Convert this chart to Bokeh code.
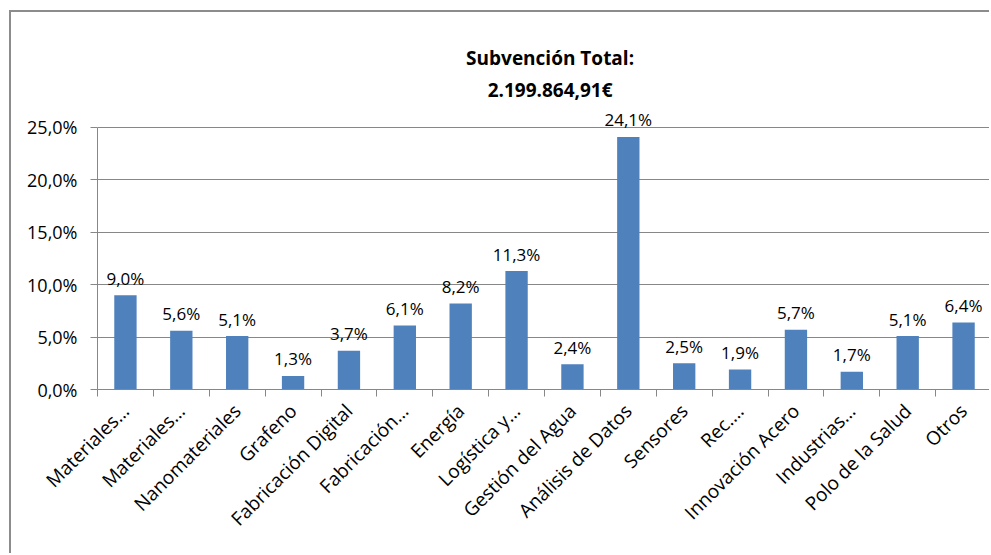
from math import pi
from bokeh.plotting import figure
from bokeh.models import Range1d, FixedTicker, Label, ColumnDataSource
from bokeh.core.properties import value
from bokeh.embed import file_html
from bokeh.resources import INLINE

categories = ["Materiales…", "Materiales…", "Nanomateriales", "Grafeno",
              "Fabricación Digital", "Fabricación…", "Energía", "Logística y…",
              "Gestión del Agua", "Análisis de Datos", "Sensores", "Rec.…",
              "Innovación Acero", "Industrias…", "Polo de la Salud", "Otros"]
percent = [9.0, 5.6, 5.1, 1.3, 3.7, 6.1, 8.2, 11.3, 2.4, 24.1, 2.5, 1.9, 5.7, 1.7, 5.1, 6.4]
y_ticks = [0, 5, 10, 15, 20, 25]
title_lines = ["Subvención Total:", "2.199.864,91€"]

n = len(categories)
xs = [i + 0.5 for i in range(n)]
labels = [f"{v:.1f}".replace(".", ",") + "%" for v in percent]
src = ColumnDataSource(dict(x=xs, top=percent, label=labels))

GRAY = "#878787"
BLUE = "#4F81BD"
FONT = "Open Sans"

p = figure(width=980, height=543, x_range=Range1d(0, n), y_range=Range1d(0, 33.3),
           output_backend="svg", toolbar_location=None,
           min_border_left=86, min_border_right=0, min_border_top=28, min_border_bottom=166)
p.margin = (10, 0, 0, 9)
p.styles = {"border-left": "2px solid #8c8c8c", "border-top": "2px solid #8c8c8c"}
p.outline_line_color = None
p.background_fill_color = "white"
p.border_fill_color = "white"

p.vbar(x="x", top="top", width=0.4, bottom=0, source=src,
       fill_color=BLUE, line_color=None)

p.text(x="x", y="top", text="label", source=src, text_align="center",
       text_baseline="alphabetic", y_offset=-17,
       text_font=value(FONT), text_font_size="17px", text_color="#000000")

# y axis
p.yaxis.ticker = FixedTicker(ticks=y_ticks)
p.yaxis.major_label_overrides = {t: f"{t},0%" for t in y_ticks}
p.yaxis.bounds = (0, 25)
p.yaxis.axis_line_color = GRAY
p.yaxis.major_tick_line_color = GRAY
p.yaxis.major_tick_out = 7
p.yaxis.major_tick_in = 0
p.yaxis.minor_tick_line_color = None
p.yaxis.major_label_standoff = 13
p.yaxis.major_label_text_font = FONT
p.yaxis.major_label_text_font_size = "18px"
p.yaxis.major_label_text_color = "#000000"

# grid
p.xgrid.grid_line_color = None
p.ygrid.ticker = FixedTicker(ticks=y_ticks[1:])
p.ygrid.grid_line_color = GRAY
p.ygrid.grid_line_width = 1

# x axis
p.xaxis.ticker = FixedTicker(ticks=xs, minor_ticks=list(range(n + 1)))
p.xaxis.major_label_overrides = {x: c for x, c in zip(xs, categories)}
p.xaxis.axis_line_color = GRAY
p.xaxis.major_tick_line_color = None
p.xaxis.major_tick_out = 0
p.xaxis.major_tick_in = 0
p.xaxis.minor_tick_line_color = GRAY
p.xaxis.minor_tick_out = 7
p.xaxis.minor_tick_in = 0
p.xaxis.major_label_orientation = pi / 4
p.xaxis.major_label_standoff = 11
p.xaxis.major_label_text_font = FONT
p.xaxis.major_label_text_font_size = "19px"
p.xaxis.major_label_text_color = "#000000"

# title
for txt, yv in zip(title_lines, [31.6, 28.55]):
    p.add_layout(Label(x=8.1, y=yv, text=txt, text_align="center", text_baseline="middle",
                       text_font=FONT, text_font_style="bold",
                       text_font_size="19px", text_color="#000000"))

open("out.html", "w").write(file_html(p, INLINE))
